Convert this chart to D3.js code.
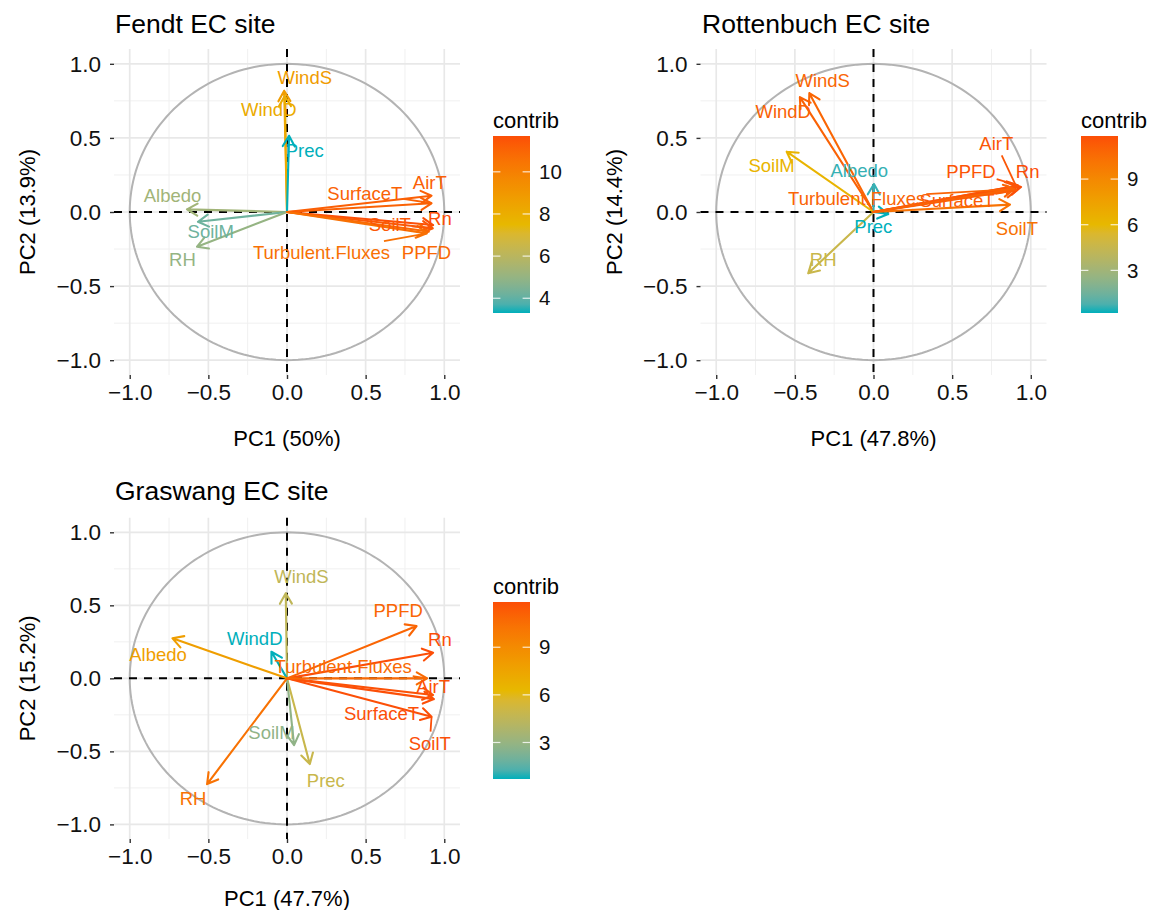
<!DOCTYPE html>
<html>
<head>
<meta charset="utf-8">
<script src="https://cdn.jsdelivr.net/npm/d3@7"></script>
<style>
  body { margin: 0; background: #fff; }
  svg { font-family: "Liberation Sans", Arial, Helvetica, sans-serif; }
</style>
</head>
<body>
<svg id="chart" width="1150" height="910"></svg>
<script>
// Variables of the PCA (same order in every site)
const variables = ["WindS", "WindD", "Prec", "Albedo", "SoilM", "RH",
                   "SurfaceT", "AirT", "Rn", "SoilT", "PPFD", "Turbulent.Fluxes"];

// Fendt EC site: loadings on PC1/PC2, contributions, repelled label anchors
const fendtPC1      = [-0.018, -0.014, 0.013, -0.636, -0.566, -0.572, 0.919, 0.919, 0.929, 0.927, 0.902, 0.889];
const fendtPC2      = [ 0.818,  0.784, 0.514,  0.018, -0.066, -0.234, 0.059, 0.110, -0.088, -0.110, -0.132, -0.144];
const fendtContrib  = [8.8, 8.1, 3.3, 5.3, 4.2, 5.0, 11.1, 11.2, 11.7, 11.4, 10.9, 10.6];
const fendtLabelPC1 = [0.113, -0.116, 0.113, -0.728, -0.485, -0.665, 0.495, 0.908, 0.972, 0.654, 0.887, 0.219];
const fendtLabelPC2 = [0.905,  0.694, 0.412,  0.108, -0.133, -0.324, 0.128, 0.196, -0.043, -0.083, -0.275, -0.275];
const fendtLegendTicks = [4, 6, 8, 10];

// Rottenbuch EC site
const rottPC1      = [-0.408, -0.468, 0.094, 0.003, -0.552, -0.415, 0.913, 0.906, 0.938, 0.868, 0.919, 0.894];
const rottPC2      = [ 0.802,  0.775, -0.014, 0.189, 0.407, -0.414, 0.149, 0.176, 0.169, 0.050, 0.179, 0.155];
const rottContrib  = [10.8, 11.0, 0.2, 0.5, 6.3, 4.6, 11.2, 11.5, 11.83, 10.2, 11.6, 10.9];
const rottLabelPC1 = [-0.323, -0.574, -0.001, -0.090, -0.648, -0.320, 0.531, 0.781, 0.980, 0.912, 0.620, -0.107];
const rottLabelPC2 = [ 0.885,  0.678, -0.099,  0.279,  0.311, -0.324, 0.076, 0.459, 0.272, -0.110, 0.272, 0.093];
const rottLegendTicks = [3, 6, 9];

// Graswang EC site
const grasPC1      = [-0.008, -0.099, 0.145, -0.728, 0.045, -0.508, 0.934, 0.929, 0.929, 0.919, 0.824, 0.891];
const grasPC2      = [ 0.582,  0.182, -0.587, 0.274, -0.457, -0.724, -0.142, -0.114, 0.175, -0.263, 0.358, 0.000];
const grasContrib  = [4.5, 0.7, 4.9, 7.9, 2.8, 10.3, 11.8, 11.7, 11.85, 11.8, 10.9, 10.7];
const grasLabelPC1 = [0.092, -0.205, 0.247, -0.820, -0.099, -0.597, 0.601, 0.929, 0.972, 0.908, 0.707, 0.357];
const grasLabelPC2 = [0.696,  0.274, -0.701, 0.160, -0.373, -0.822, -0.240, -0.058, 0.267, -0.444, 0.463, 0.084];
const grasLegendTicks = [3, 6, 9];

const siteTitles = ["Fendt EC site", "Rottenbuch EC site", "Graswang EC site"];
const pc1Titles  = ["PC1 (50%)", "PC1 (47.8%)", "PC1 (47.7%)"];
const pc2Titles  = ["PC2 (13.9%)", "PC2 (14.4%)", "PC2 (15.2%)"];

const gradientCols = ["#00AFBB", "#E7B800", "#FC4E07"];

const sites = [
  { pc1: fendtPC1, pc2: fendtPC2, contrib: fendtContrib, lx: fendtLabelPC1, ly: fendtLabelPC2, ticks: fendtLegendTicks },
  { pc1: rottPC1,  pc2: rottPC2,  contrib: rottContrib,  lx: rottLabelPC1,  ly: rottLabelPC2,  ticks: rottLegendTicks },
  { pc1: grasPC1,  pc2: grasPC2,  contrib: grasContrib,  lx: grasLabelPC1,  ly: grasLabelPC2,  ticks: grasLegendTicks }
];

// Panel geometry
const layout = [
  { plot: { x0: 114,   x1: 460,    y0: 49,    y1: 375 }, legend: { x: 493,  y0: 136, y1: 313 }, title: { x: 115, y: 33 },  xTitleY: 446, yTitleX: 27 },
  { plot: { x0: 700.5, x1: 1046.5, y0: 49,    y1: 375 }, legend: { x: 1081, y0: 136, y1: 313 }, title: { x: 702, y: 33 },  xTitleY: 446, yTitleX: 614 },
  { plot: { x0: 114,   x1: 460,    y0: 517.7, y1: 839 }, legend: { x: 493,  y0: 602, y1: 779 }, title: { x: 115, y: 500 }, xTitleY: 906, yTitleX: 27 }
];

const svg = d3.select("#chart");
const defs = svg.append("defs");
const fmt = d3.format(".1f");

const FONT_TITLE = 26.5, FONT_AXIS = 22, FONT_TICK = 22.5, FONT_LABEL = 18.5, FONT_LEG = 22, FONT_LEGTXT = 20.5;

sites.forEach((site, i) => {
  const L = layout[i];
  const g = svg.append("g");
  const x = d3.scaleLinear().domain([-1.1, 1.1]).range([L.plot.x0, L.plot.x1]);
  const y = d3.scaleLinear().domain([-1.1, 1.1]).range([L.plot.y1, L.plot.y0]);

  const cMin = d3.min(site.contrib), cMax = d3.max(site.contrib);
  const color = d3.scaleLinear()
    .domain([cMin, (cMin + cMax) / 2, cMax])
    .range(gradientCols)
    .interpolate(d3.interpolateLab);

  // grid
  const minor = [-0.75, -0.25, 0.25, 0.75];
  const major = [-1, -0.5, 0, 0.5, 1];
  g.append("g").selectAll("line").data(minor).join("line")
    .attr("x1", d => x(d)).attr("x2", d => x(d)).attr("y1", L.plot.y0).attr("y2", L.plot.y1)
    .attr("stroke", "#F0F0F0").attr("stroke-width", 1);
  g.append("g").selectAll("line").data(minor).join("line")
    .attr("y1", d => y(d)).attr("y2", d => y(d)).attr("x1", L.plot.x0).attr("x2", L.plot.x1)
    .attr("stroke", "#F0F0F0").attr("stroke-width", 1);
  g.append("g").selectAll("line").data(major).join("line")
    .attr("x1", d => x(d)).attr("x2", d => x(d)).attr("y1", L.plot.y0).attr("y2", L.plot.y1)
    .attr("stroke", "#E8E8E8").attr("stroke-width", 1.7);
  g.append("g").selectAll("line").data(major).join("line")
    .attr("y1", d => y(d)).attr("y2", d => y(d)).attr("x1", L.plot.x0).attr("x2", L.plot.x1)
    .attr("stroke", "#E8E8E8").attr("stroke-width", 1.7);

  // correlation circle
  const circlePts = d3.range(0, 361, 2).map(a => [Math.cos(a * Math.PI / 180), Math.sin(a * Math.PI / 180)]);
  g.append("path")
    .attr("d", d3.line().x(d => x(d[0])).y(d => y(d[1]))(circlePts))
    .attr("fill", "none").attr("stroke", "#B3B3B3").attr("stroke-width", 2);

  // zero lines
  g.append("line").attr("x1", L.plot.x0).attr("x2", L.plot.x1).attr("y1", y(0)).attr("y2", y(0))
    .attr("stroke", "#000").attr("stroke-width", 2).attr("stroke-dasharray", "8,7");
  g.append("line").attr("y1", L.plot.y0).attr("y2", L.plot.y1).attr("x1", x(0)).attr("x2", x(0))
    .attr("stroke", "#000").attr("stroke-width", 2).attr("stroke-dasharray", "8,7");

  // axes
  const axB = g.append("g").attr("transform", `translate(0,${L.plot.y1})`)
    .call(d3.axisBottom(x).tickValues(major).tickFormat(fmt).tickSize(4).tickPadding(5));
  const axL = g.append("g").attr("transform", `translate(${L.plot.x0},0)`)
    .call(d3.axisLeft(y).tickValues(major).tickFormat(fmt).tickSize(4).tickPadding(9));
  [axB, axL].forEach(a => {
    a.select(".domain").remove();
    a.selectAll(".tick line").attr("stroke", "#333").attr("stroke-width", 1.4);
    a.selectAll(".tick text").attr("fill", "#111").style("font-size", FONT_TICK + "px")
      .style("font-family", "'Liberation Sans', Arial, sans-serif");
  });

  // titles
  g.append("text").attr("x", L.title.x).attr("y", L.title.y).text(siteTitles[i])
    .style("font-size", FONT_TITLE + "px").attr("fill", "#000");
  g.append("text").attr("x", (L.plot.x0 + L.plot.x1) / 2).attr("y", L.xTitleY)
    .attr("text-anchor", "middle").text(pc1Titles[i])
    .style("font-size", FONT_AXIS + "px").attr("fill", "#000");
  g.append("text")
    .attr("transform", `translate(${L.yTitleX},${(L.plot.y0 + L.plot.y1) / 2}) rotate(-90)`)
    .attr("text-anchor", "middle").attr("dy", "0.35em").text(pc2Titles[i])
    .style("font-size", FONT_AXIS + "px").attr("fill", "#000");

  // variable arrows
  const data = variables.map((v, k) => ({
    name: v, pc1: site.pc1[k], pc2: site.pc2[k], contrib: site.contrib[k],
    lx: site.lx[k], ly: site.ly[k]
  }));
  const headLen = 12, headAng = Math.PI / 6;
  const arrows = g.append("g");
  data.forEach(d => {
    const x0 = x(0), y0 = y(0), x1 = x(d.pc1), y1 = y(d.pc2);
    const ang = Math.atan2(y1 - y0, x1 - x0);
    const p = d3.path();
    p.moveTo(x0, y0); p.lineTo(x1, y1);
    p.moveTo(x1 - headLen * Math.cos(ang - headAng), y1 - headLen * Math.sin(ang - headAng));
    p.lineTo(x1, y1);
    p.lineTo(x1 - headLen * Math.cos(ang + headAng), y1 - headLen * Math.sin(ang + headAng));
    arrows.append("path").attr("d", p.toString())
      .attr("fill", "none").attr("stroke", color(d.contrib))
      .attr("stroke-width", 2.1).attr("stroke-linejoin", "round").attr("stroke-linecap", "round");
  });

  // labels with leader segments (label box -> arrow tip)
  const segG = g.append("g");
  const labG = g.append("g");
  data.forEach(d => {
    const t = labG.append("text")
      .attr("x", x(d.lx)).attr("y", y(d.ly)).attr("dy", "0.35em")
      .attr("text-anchor", "middle").text(d.name)
      .style("font-size", FONT_LABEL + "px").attr("fill", color(d.contrib));
    const bb = t.node().getBBox();
    const pad = 1;
    const cx = bb.x + bb.width / 2, cy = bb.y + bb.height / 2;
    const hw = bb.width / 2 + pad, hh = bb.height / 2 + pad;
    const px = x(d.pc1), py = y(d.pc2);
    const dx = px - cx, dy = py - cy;
    const tx = dx === 0 ? Infinity : hw / Math.abs(dx);
    const ty = dy === 0 ? Infinity : hh / Math.abs(dy);
    const tt = Math.min(tx, ty);
    if (tt < 1) {
      const sx = cx + dx * tt, sy = cy + dy * tt;
      const len = Math.hypot(px - sx, py - sy);
      if (len > 14.5) {
        segG.append("line").attr("x1", sx).attr("y1", sy).attr("x2", px).attr("y2", py)
          .attr("stroke", color(d.contrib)).attr("stroke-width", 1.8);
      }
    }
  });

  // colour bar legend
  const gradId = "grad" + i;
  const grad = defs.append("linearGradient").attr("id", gradId)
    .attr("x1", 0).attr("y1", 1).attr("x2", 0).attr("y2", 0);
  d3.range(0, 1.0001, 0.05).forEach(f => {
    grad.append("stop").attr("offset", f).attr("stop-color", color(cMin + f * (cMax - cMin)));
  });
  const barW = 37;
  const lg = svg.append("g");
  lg.append("text").attr("x", L.legend.x).attr("y", L.legend.y0 - 8).text("contrib")
    .style("font-size", FONT_LEG + "px").attr("fill", "#000");
  lg.append("rect").attr("x", L.legend.x).attr("y", L.legend.y0)
    .attr("width", barW).attr("height", L.legend.y1 - L.legend.y0)
    .attr("fill", `url(#${gradId})`);
  const ly = d3.scaleLinear().domain([cMin, cMax]).range([L.legend.y1, L.legend.y0]);
  site.ticks.forEach(v => {
    const yy = ly(v);
    lg.append("line").attr("x1", L.legend.x).attr("x2", L.legend.x + barW / 5)
      .attr("y1", yy).attr("y2", yy).attr("stroke", "#fff").attr("stroke-opacity", 0.8).attr("stroke-width", 1.2);
    lg.append("line").attr("x1", L.legend.x + barW - barW / 5).attr("x2", L.legend.x + barW)
      .attr("y1", yy).attr("y2", yy).attr("stroke", "#fff").attr("stroke-opacity", 0.8).attr("stroke-width", 1.2);
    lg.append("text").attr("x", L.legend.x + barW + 9).attr("y", yy).attr("dy", "0.35em")
      .text(v).style("font-size", FONT_LEGTXT + "px").attr("fill", "#111");
  });
});
</script>
</body>
</html>
